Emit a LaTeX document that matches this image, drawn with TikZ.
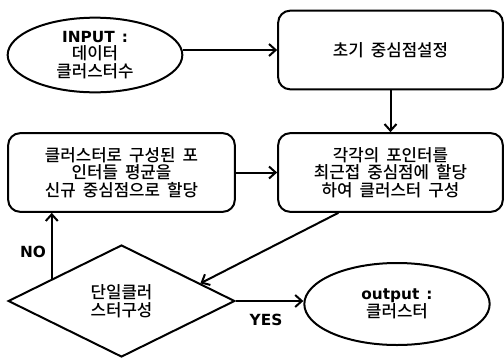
\documentclass[tikz,border=0pt]{standalone}
\usepackage{fontspec}
\setmainfont{Noto Sans CJK KR}[UprightFont=* Medium]
\newfontfamily\latinbold{DejaVu Sans}
\usetikzlibrary{arrows.meta,calc,positioning,shapes.geometric}

\newcommand\kor{\fontsize{12.6}{13.2}\selectfont\spaceskip=0.42em\relax}
\newcommand\latb{\latinbold\bfseries\fontsize{11.5}{13.2}\selectfont}

\begin{document}
\begin{tikzpicture}[x=0.75pt,y=-0.75pt,line width=1.5pt,
                    >={Straight Barb[length=5pt,width=9pt]},
                    stepbox/.style={draw,rounded corners=9pt,minimum width=168.5pt,
                                    minimum height=59pt,align=center,font=\kor},
                    term/.style={draw,ellipse,inner sep=0pt,align=center,font=\kor},
                    decide/.style={draw,diamond,inner sep=0pt,align=center,font=\kor},
                    tag/.style={font=\latb}]
                    \useasboundingbox (0,0) rectangle (504,358);
                    \node[term,minimum width=131pt,minimum height=56pt] (input) at (95,55)
                        {{\latb INPUT :}\\데이터\\클러스터수};
                    \node[stepbox] (init) at (390.5,50) {초기 중심점설정};
                    \node[stepbox] (assign) at (390.5,172.5)
                        {각각의 포인터를\\최근접 중심점에 할당\\하여 클러스터 구성};
                    \node[stepbox,minimum width=170pt] (update) at (121.5,172.5)
                        {클러스터로 구성된 포\\인터들 평균을\\신규 중심점으로 할당};
                    \node[decide,minimum width=170pt,minimum height=84pt] (single) at (121.5,301)
                        {단일클러\\스터구성};
                    \node[term,minimum width=139pt,minimum height=61.5pt] (output) at (397,304)
                        {{\latb output :}\\클러스터};
                    \node[tag] (no) at (33,252) {NO};
                    \node[tag] (yes) at (266,320) {YES};
                    \coordinate (back) at ($(single.west)!0.39!(single.north)$);
                    \coordinate (leave) at ($(assign.south west)!0.27!(assign.south east)$);
                    \coordinate (enter) at ($(single.north)!0.69!(single.east)$);
                    \draw[->] (input.east |- init.west) -- (init.west);
                    \foreach \Source/\Target in {%
                        init.south/assign.north,
                        update.east/assign.west,
                        leave/enter,
                        back/back |- update.south,
                        single.east/single.east -| output.west%
                        }
                        \draw[->] (\Source) -- (\Target);
\end{tikzpicture}
\end{document}
